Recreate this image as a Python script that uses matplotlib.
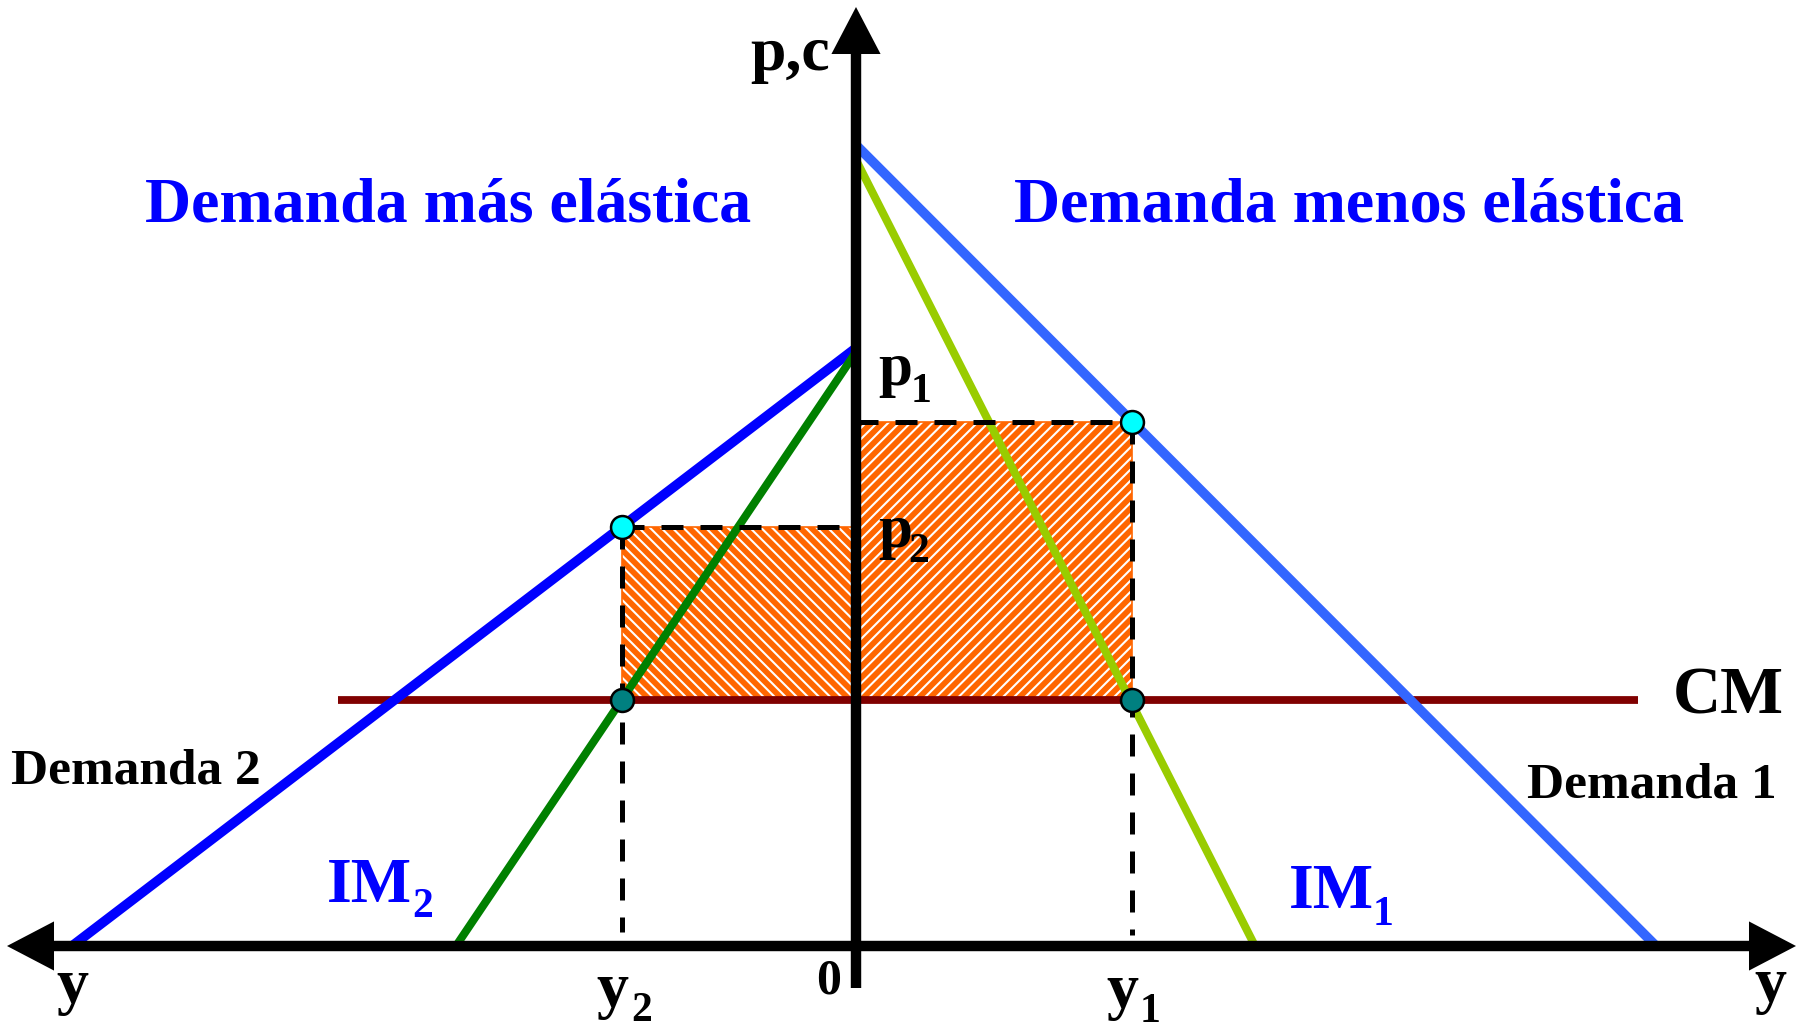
import numpy as np
import matplotlib.pyplot as plt
from matplotlib.patches import Rectangle, FancyArrowPatch, ArrowStyle

# ----------------- values -----------------
# lines given as (price intercept, quantity intercept)
demanda_1 = (801, 800)     # right side, less elastic
im_1 = (786, 399)
demanda_2 = (598, 784)     # left side, more elastic (quantity drawn to the left)
im_2 = (594, 400)
cm = 246                   # constant marginal cost
cm_from, cm_to = -518, 782

# monopoly equilibria
y_1, p_1 = 276, 524
y_2, p_2 = 234, 419

# ----------------- style -----------------
plt.rcParams['font.family'] = ['Liberation Serif', 'DejaVu Serif']
plt.rcParams['font.weight'] = 'bold'
plt.rcParams['hatch.linewidth'] = 1.5

BLUE_D1 = '#3366FF'
BLUE_D2 = '#0000FF'
GREEN_IM1 = '#99CC00'
GREEN_IM2 = '#008000'
RED_CM = '#800000'
ORANGE = '#FF6600'
TXT_BLUE = '#0000FF'


def line_pts(p0, q0, side=1):
    # straight demand / marginal revenue line between both intercepts
    return np.array([0, side * q0]), np.array([p0, 0])


fig = plt.figure(figsize=(18.04, 10.23), dpi=100)
ax = fig.add_axes([0, 0, 1, 1])
ax.set_xlim(-856, 948)
ax.set_ylim(-77, 946)
ax.axis('off')

# ----------- hatched profit rectangles -----------
r1 = Rectangle((0, cm), y_1, p_1 - cm, facecolor=ORANGE, edgecolor='white',
               lw=0, hatch='///', zorder=1)
r2 = Rectangle((-y_2, cm), y_2, p_2 - cm, facecolor=ORANGE, edgecolor='white',
               lw=0, hatch='\\\\\\', zorder=1)
ax.add_patch(r1)
ax.add_patch(r2)
ax.add_patch(Rectangle((0, cm), y_1, p_1 - cm, fill=False, edgecolor=ORANGE, lw=1.2, zorder=1.5))
ax.add_patch(Rectangle((-y_2, cm), y_2, p_2 - cm, fill=False, edgecolor=ORANGE, lw=1.2, zorder=1.5))

# ----------- curves -----------
ax.plot([cm_from, cm_to], [cm, cm], color=RED_CM, lw=5.6, solid_capstyle='butt', zorder=2.5)

x, y = line_pts(*demanda_1)
ax.plot(x, y, color=BLUE_D1, lw=7, solid_capstyle='butt', zorder=3)
x, y = line_pts(*im_1)
ax.plot(x, y, color=GREEN_IM1, lw=5.8, solid_capstyle='butt', zorder=3)
x, y = line_pts(*demanda_2, side=-1)
ax.plot(x, y, color=BLUE_D2, lw=7, solid_capstyle='butt', zorder=3)
x, y = line_pts(*im_2, side=-1)
ax.plot(x, y, color=GREEN_IM2, lw=5.8, solid_capstyle='butt', zorder=3)

# ----------- dashed guides -----------
dash = dict(color='black', lw=3.6, dashes=(4.4, 3.4), zorder=4)
ax.plot([0, y_1], [p_1, p_1], **dash)
ax.plot([y_1, y_1], [p_1, 11], **dash)
ax.plot([-y_2, 0], [p_2, p_2], **dash)
ax.plot([-y_2, -y_2], [p_2, 14], **dash)

# ----------- axes with arrows -----------
head = ArrowStyle('-|>', head_length=22, head_width=11.5)
ax.add_patch(FancyArrowPatch((0, -42), (0, 939), arrowstyle=head, mutation_scale=1,
                             lw=7.5, color='black', shrinkA=0, shrinkB=0,
                             capstyle='butt', joinstyle='miter', zorder=5))
head2 = ArrowStyle('<|-|>', head_length=22, head_width=11.5)
ax.add_patch(FancyArrowPatch((-849, 0), (940, 0), arrowstyle=head2, mutation_scale=1,
                             lw=7.5, color='black', shrinkA=0, shrinkB=0,
                             capstyle='butt', joinstyle='miter', zorder=5))

# ----------- equilibrium points -----------
ax.plot([y_1, -y_2], [p_1, p_2], 'o', ms=16.5, mfc='#00FFFF', mec='black', mew=1.8, zorder=6)
ax.plot([y_1, -y_2], [cm, cm], 'o', ms=16.5, mfc='#008080', mec='black', mew=1.8, zorder=6)

# ----------- texts -----------
big = 46
ax.text(-408, 725, 'Demanda más elástica', color=TXT_BLUE, fontsize=big,
        ha='center', va='baseline', fontweight='bold')
ax.text(493, 725, 'Demanda menos elástica', color=TXT_BLUE, fontsize=big,
        ha='center', va='baseline', fontweight='bold')
ax.text(-26, 876, 'p,c', fontsize=big, ha='right', va='baseline', fontweight='bold')

ax.text(22, 561, 'p', fontsize=44, ha='left', va='baseline', fontweight='bold')
ax.text(55, 544, '1', fontsize=30, ha='left', va='baseline', fontweight='bold')
ax.text(22, 399, 'p', fontsize=44, ha='left', va='baseline', fontweight='bold')
ax.text(52, 384, '2', fontsize=30, ha='left', va='baseline', fontweight='bold')

ax.text(817, 233, 'CM', fontsize=48, ha='left', va='baseline', fontweight='bold')
ax.text(671, 149, 'Demanda 1', fontsize=37, ha='left', va='baseline', fontweight='bold')
ax.text(-845, 163, 'Demanda 2', fontsize=37, ha='left', va='baseline', fontweight='bold')

ax.text(-529, 44, 'IM', color=TXT_BLUE, fontsize=big, ha='left', va='baseline', fontweight='bold')
ax.text(-444, 29, '2', color=TXT_BLUE, fontsize=30, ha='left', va='baseline', fontweight='bold')
ax.text(433, 38, 'IM', color=TXT_BLUE, fontsize=big, ha='left', va='baseline', fontweight='bold')
ax.text(517, 21, '1', color=TXT_BLUE, fontsize=30, ha='left', va='baseline', fontweight='bold')

ax.text(-784, -56, 'y', fontsize=big, ha='center', va='baseline', fontweight='bold')
ax.text(914, -55, 'y', fontsize=big, ha='center', va='baseline', fontweight='bold')
ax.text(-27, -47, '0', fontsize=36, ha='center', va='baseline', fontweight='bold')
ax.text(-260, -60, 'y', fontsize=big, ha='left', va='baseline', fontweight='bold')
ax.text(-225, -75, '2', fontsize=30, ha='left', va='baseline', fontweight='bold')
ax.text(250, -61, 'y', fontsize=big, ha='left', va='baseline', fontweight='bold')
ax.text(284, -76, '1', fontsize=30, ha='left', va='baseline', fontweight='bold')

plt.savefig('out.png', dpi=100)
plt.close()
